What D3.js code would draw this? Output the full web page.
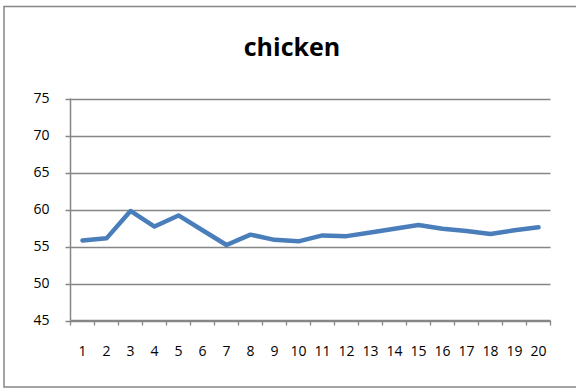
<!DOCTYPE html>
<html>
<head>
<meta charset="utf-8">
<script src="https://cdn.jsdelivr.net/npm/d3@7"></script>
<style>
  html, body { margin: 0; padding: 0; background: #fff; }
  svg { display: block; }
</style>
</head>
<body>
<svg id="chart" width="576" height="389"></svg>
<script>
// Series data
const categories = d3.range(1, 21).map(String);
const values = [55.8, 56.1, 59.8, 57.7, 59.2, 57.2, 55.2, 56.6, 55.9, 55.7,
                56.5, 56.4, 56.9, 57.4, 57.9, 57.4, 57.1, 56.7, 57.2, 57.6];
const yTicks = [45, 50, 55, 60, 65, 70, 75];
const title = "chicken";

const svg = d3.select("#chart");
const axisColor = "#868686";
const font = "'Open Sans', sans-serif";

// Chart area frame
svg.append("rect")
  .attr("x", 4).attr("y", 6.5)
  .attr("width", 580).attr("height", 380.5)
  .attr("fill", "#fff")
  .attr("stroke", axisColor).attr("stroke-width", 1.5);

const plot = { left: 70.5, right: 550.5, top: 98.5, bottom: 320.5 };

const x = d3.scaleBand().domain(categories).range([plot.left, plot.right]);
const y = d3.scaleLinear().domain([45, 75]).range([plot.bottom, plot.top]);

// Title
svg.append("text")
  .attr("x", 292).attr("y", 56)
  .attr("text-anchor", "middle")
  .attr("font-family", font)
  .attr("font-weight", "bold")
  .attr("font-size", 25)
  .attr("fill", "#000")
  .text(title);

// Horizontal gridlines (extend left as tick marks)
svg.append("g")
  .selectAll("line")
  .data(yTicks)
  .join("line")
  .attr("x1", plot.left - 5).attr("x2", plot.right)
  .attr("y1", d => Math.round(y(d)) + 0.5).attr("y2", d => Math.round(y(d)) + 0.5)
  .attr("stroke", axisColor).attr("stroke-width", 1.3);

// Y axis labels
const yAxis = d3.axisLeft(y).tickValues(yTicks).tickSize(0).tickPadding(0);
const yg = svg.append("g")
  .attr("transform", `translate(${plot.left - 21},0)`)
  .call(yAxis);
yg.select(".domain").remove();
yg.selectAll("text")
  .attr("font-family", font).attr("font-size", 14).attr("fill", "#000");

// Vertical axis line
svg.append("line")
  .attr("x1", plot.left).attr("x2", plot.left)
  .attr("y1", plot.top).attr("y2", plot.bottom)
  .attr("stroke", axisColor).attr("stroke-width", 1.5);

// X axis with ticks at category boundaries
const xg = svg.append("g").attr("transform", `translate(0,${plot.bottom})`);
xg.append("line")
  .attr("x1", plot.left).attr("x2", plot.right)
  .attr("y1", 0).attr("y2", 0)
  .attr("stroke", axisColor).attr("stroke-width", 1.5);
const bounds = categories.map(c => x(c)).concat([plot.right]);
xg.selectAll("line.tick")
  .data(bounds)
  .join("line")
  .attr("class", "tick")
  .attr("x1", d => d).attr("x2", d => d)
  .attr("y1", 0).attr("y2", 5)
  .attr("stroke", axisColor).attr("stroke-width", 1.3);
xg.selectAll("text")
  .data(categories)
  .join("text")
  .attr("x", d => x(d) + x.bandwidth() / 2)
  .attr("y", 31)
  .attr("dy", "0.32em")
  .attr("text-anchor", "middle")
  .attr("font-family", font).attr("font-size", 14).attr("fill", "#000")
  .text(d => d);

// Data line
const line = d3.line()
  .x((d, i) => x(categories[i]) + x.bandwidth() / 2)
  .y(d => y(d));
svg.append("path")
  .datum(values)
  .attr("d", line)
  .attr("fill", "none")
  .attr("stroke", "#4a7ebb")
  .attr("stroke-width", 4.5)
  .attr("stroke-linejoin", "round")
  .attr("stroke-linecap", "round");
</script>
</body>
</html>
